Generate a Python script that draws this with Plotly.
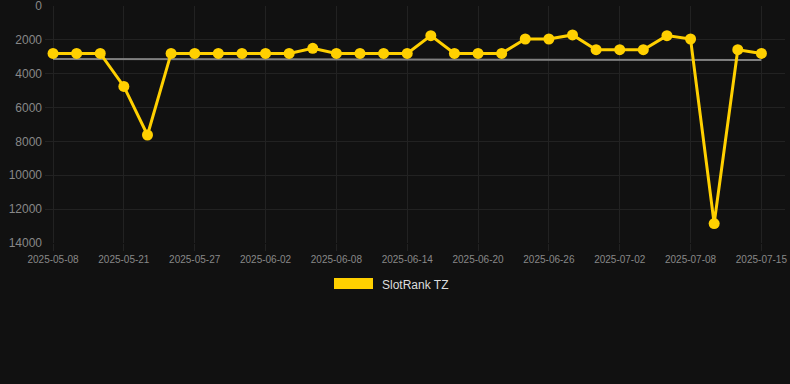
import plotly.graph_objects as go

dates = ["2025-05-08", "2025-05-17", "2025-05-19", "2025-05-21", "2025-05-23", "2025-05-25",
         "2025-05-27", "2025-05-29", "2025-05-31", "2025-06-02", "2025-06-04", "2025-06-06",
         "2025-06-08", "2025-06-10", "2025-06-12", "2025-06-14", "2025-06-16", "2025-06-18",
         "2025-06-20", "2025-06-22", "2025-06-24", "2025-06-26", "2025-06-28", "2025-06-30",
         "2025-07-02", "2025-07-04", "2025-07-06", "2025-07-08", "2025-07-10", "2025-07-13",
         "2025-07-15"]
rank = [2800, 2800, 2800, 4750, 7620, 2800, 2800, 2800, 2800, 2800, 2800, 2500,
        2800, 2800, 2800, 2800, 1750, 2800, 2800, 2800, 1950, 1950, 1710, 2580,
        2580, 2580, 1750, 1950, 12850, 2580, 2800]
trend_start, trend_end = 3130, 3190
tick_labels = ["2025-05-08", "2025-05-21", "2025-05-27", "2025-06-02", "2025-06-08",
               "2025-06-14", "2025-06-20", "2025-06-26", "2025-07-02", "2025-07-08",
               "2025-07-15"]
y_ticks = [0, 2000, 4000, 6000, 8000, 10000, 12000, 14000]
series_name = "SlotRank TZ"

yellow = "#FFD000"
bg = "#111111"
grid = "#222222"

fig = go.Figure()
fig.add_trace(go.Scatter(
    x=[dates[0], dates[-1]], y=[trend_start, trend_end], mode="lines",
    line=dict(color="#808080", width=2), showlegend=False, hoverinfo="skip"))
fig.add_trace(go.Scatter(
    x=dates, y=rank, mode="lines+markers", name=series_name,
    line=dict(color=yellow, width=3), marker=dict(color=yellow, size=11),
    showlegend=False))

# manual legend (rectangle swatch + label)
fig.add_shape(type="rect", xref="paper", yref="paper",
              x0=(334 - 45) / 740, x1=(373 - 45) / 740,
              y0=(243 - 289) / 237, y1=(243 - 278) / 237,
              fillcolor=yellow, line=dict(width=0))
fig.add_annotation(xref="paper", yref="paper", x=(380 - 45) / 740, y=(243 - 285) / 237,
                   text=series_name, showarrow=False, xanchor="left", yanchor="middle",
                   font=dict(color="#dddddd", size=12, family="Liberation Sans, Arial"))

fig.update_layout(
    width=790, height=384,
    margin=dict(l=45, r=5, t=6, b=141),
    paper_bgcolor=bg, plot_bgcolor=bg,
    font=dict(family="Liberation Sans, Arial", color="#888888"),
    xaxis=dict(type="category", categoryorder="array", categoryarray=dates,
               range=[-0.34, 31.0], automargin=False,
               tickmode="array", tickvals=[dates[i] for i in range(0, 31, 3)],
               ticktext=tick_labels, tickfont=dict(size=10, color="#888888"),
               showgrid=True, gridcolor=grid, gridwidth=1,
               ticks="outside", ticklen=7, tickcolor=grid,
               zeroline=False, showline=False),
    yaxis=dict(range=[14000, 0], tickvals=y_ticks, tickformat="d", automargin=False,
               tickfont=dict(size=12, color="#888888"), ticklabeloverflow="allow",
               showgrid=True, gridcolor=grid, gridwidth=1,
               zeroline=False, showline=False, ticks="", ticklabelstandoff=2),
)

fig.write_html("out.html", config={"displayModeBar": False},
               post_script="document.body.style.margin='0';document.body.style.background='#111111';")
